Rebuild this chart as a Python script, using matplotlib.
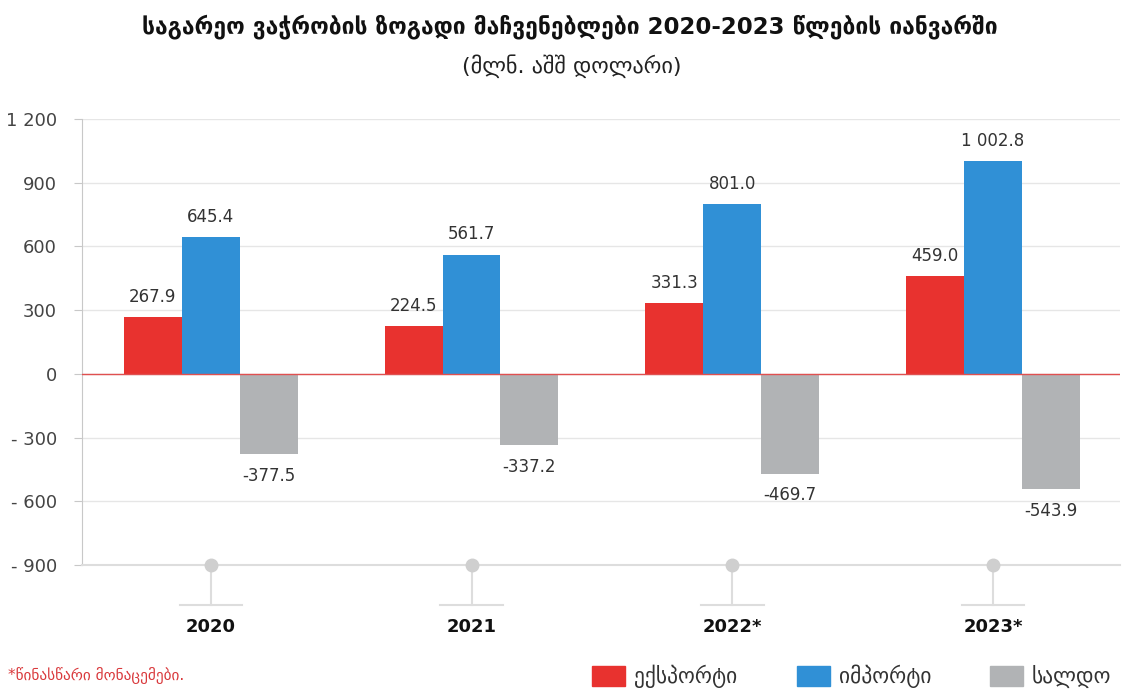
#!/usr/bin/env python
import matplotlib
matplotlib.use("Agg")
import matplotlib.pyplot as plt
from matplotlib.patches import Rectangle
import numpy as np

years = ["2020", "2021", "2022*", "2023*"]
export = [267.9, 224.5, 331.3, 459.0]
imports = [645.4, 561.7, 801.0, 1002.8]
saldo = [-377.5, -337.2, -469.7, -543.9]
series_names = ["ექსპორტი", "იმპორტი", "სალდო"]
yticks = [-900, -600, -300, 0, 300, 600, 900, 1200]

title = "საგარეო ვაჭრობის ზოგადი მაჩვენებლები 2020-2023 წლების იანვარში"
subtitle = "(მლნ. აშშ დოლარი)"
footnote = "*წინასწარი მონაცემები."

RED = "#E8322F"
BLUE = "#3090D6"
GRAY = "#B1B3B5"
TXT = "#333333"

plt.rcParams["font.family"] = ["DejaVu Sans"]

W, H = 1129, 689
fig = plt.figure(figsize=(W / 100, H / 100), dpi=100)
ax = fig.add_axes([82 / W, (H - 565) / H, (1120 - 82) / W, (565 - 119) / H])

x = np.arange(len(years))
bw = 0.222
colors = [RED, BLUE, GRAY]
for k, vals in enumerate([export, imports, saldo]):
    xs = x + (k - 1) * bw
    ax.bar(xs, vals, width=bw, color=colors[k], zorder=3, label=series_names[k])
    for xi, v in zip(xs, vals):
        if v >= 0:
            ax.annotate(f"{v:,.1f}".replace(",", " "), (xi, v), xytext=(0, 8),
                        textcoords="offset points", ha="center", va="bottom",
                        fontsize=12, color=TXT)
        else:
            ax.annotate(f"{v:.1f}", (xi, v), xytext=(0, -9),
                        textcoords="offset points", ha="center", va="top",
                        fontsize=12, color=TXT)

ax.set_xlim(-0.494, 3.487)
ax.set_ylim(-900, 1200)
ax.set_yticks(yticks)
ax.set_yticklabels([(("- " if t < 0 else "") + f"{abs(t):,}".replace(",", " ")) for t in yticks],
                   fontsize=13, color="#444444")
ax.set_xticks([])
ax.grid(axis="y", color="#E6E6E6", linewidth=1, zorder=0)
ax.axhline(0, color="#E05050", linewidth=1, zorder=4)
for s in ["top", "right"]:
    ax.spines[s].set_visible(False)
ax.spines["left"].set_color("#C8C8C8")
ax.spines["bottom"].set_color("#DDDDDD")
ax.spines["bottom"].set_linewidth(1.5)
ax.tick_params(axis="y", length=6, color="#C8C8C8", pad=12)

# year markers under the axis
tr = ax.get_xaxis_transform()
for xi, yr in zip(x, years):
    ax.plot([xi, xi], [0, -0.09], transform=tr, color="#DDDDDD", lw=1.5, clip_on=False, zorder=1)
    ax.plot([xi - 0.12, xi + 0.12], [-0.09, -0.09], transform=tr, color="#DDDDDD", lw=1.5, clip_on=False)
    ax.plot([xi], [0], transform=tr, marker="o", ms=9, color="#CFCFCF", clip_on=False, zorder=5)
    ax.text(xi, -0.139, yr, transform=tr, ha="center", va="center", fontsize=13,
            fontweight="bold", color="#111111")

fig.text(570 / W, 1 - 27 / H, title, ha="center", va="center", fontsize=16.5,
         fontweight="bold", color="#111111")
fig.text(572 / W, 1 - 66 / H, subtitle, ha="center", va="center", fontsize=16, color="#222222")
fig.text(8 / W, 1 - 675 / H, footnote, ha="left", va="center", fontsize=11, color="#D9393C")

# legend
for px, name, c in zip([592, 797, 990], series_names, colors):
    fig.patches.append(Rectangle((px / W, 1 - 686 / H), 33 / W, 20 / H,
                                 transform=fig.transFigure, color=c))
    fig.text((px + 42) / W, 1 - 676 / H, name, ha="left", va="center",
             fontsize=15.5, color="#333333")

fig.savefig("out.png", dpi=100)
